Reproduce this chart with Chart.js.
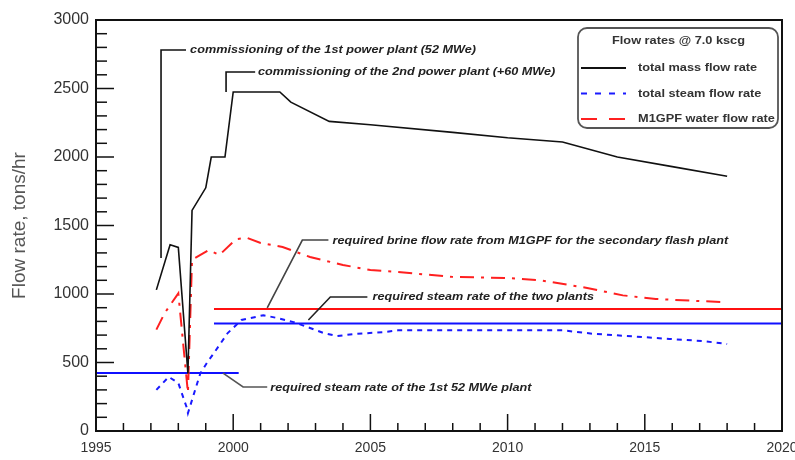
<!DOCTYPE html>
<html>
<head>
<meta charset="utf-8">
<script src="https://cdn.jsdelivr.net/npm/chart.js@4"></script>
<style>
  html, body { margin: 0; padding: 0; background: #fff; }
</style>
</head>
<body>
<canvas id="flowChart" width="795" height="460"></canvas>
<script>
// series (year, tons/hr)
const massYears = [1997.2, 1997.7, 1998.0, 1998.35, 1998.5, 1999.0, 1999.2, 1999.7, 2000.0, 2001.7, 2002.1, 2003.5, 2005, 2008, 2010, 2012, 2014, 2016, 2018];
const massFlow = [1030, 1360, 1340, 420, 1610, 1775, 2000, 2000, 2475, 2475, 2400, 2260, 2235, 2180, 2140, 2110, 2000, 1930, 1860];

const steamYears = [1997.2, 1997.65, 1998.0, 1998.3, 1998.35, 1998.8, 1999.05, 1999.3, 1999.8, 2000.3, 2001.1, 2001.6, 2002.2, 2002.8, 2003.3, 2003.8, 2004.4, 2005.5, 2006, 2012, 2013.1, 2014.9, 2015.9, 2017.1, 2018];
const steamFlow = [300, 395, 350, 175, 130, 420, 500, 570, 715, 810, 845, 825, 795, 752, 715, 693, 708, 722, 735, 735, 710, 686, 672, 657, 635];

const waterYears = [1997.2, 1997.5, 1998.0, 1998.35, 1998.5, 1999.1, 1999.5, 2000.1, 2000.5, 2001.0, 2001.8, 2002.8, 2004, 2005, 2006, 2008, 2010, 2011.2, 2012.9, 2014.2, 2015.4, 2016.8, 2018];
const waterFlow = [740, 860, 1005, 280, 1250, 1320, 1285, 1400, 1410, 1372, 1343, 1270, 1212, 1175, 1160, 1125, 1117, 1100, 1044, 990, 964, 950, 940];

// required rates (horizontal reference lines)
const req1Years = [1995, 2000.2];
const req1Flow = [423, 423];
const req2Years = [1999.3, 2020];
const req2Flow = [785, 785];
const brineYears = [1999.3, 2020];
const brineFlow = [890, 890];

const yTicks = [0, 500, 1000, 1500, 2000, 2500, 3000];
const xTicks = [1995, 2000, 2005, 2010, 2015, 2020];

const legendLabels = ['total mass flow rate', 'total steam flow rate', 'M1GPF water flow rate'];

// leader lines + notes, in data units
const notes = [
  { text: 'commissioning of the 1st power plant (52 MWe)', path: [[1997.37, 1263], [1997.37, 2781], [1998.28, 2781]], at: [1998.43, 2781], color: '#111' },
  { text: 'commissioning of the 2nd power plant (+60 MWe)', path: [[1999.74, 2474], [1999.74, 2620], [2000.8, 2620]], at: [2000.9, 2620], color: '#111' },
  { text: 'required brine flow rate from M1GPF for the secondary flash plant', path: [[2001.24, 898], [2002.52, 1394], [2003.47, 1394]], at: [2003.62, 1390], color: '#444' },
  { text: 'required steam rate of the two plants', path: [[2002.74, 810], [2003.54, 978], [2004.89, 978]], at: [2005.08, 975], color: '#222' },
  { text: 'required steam rate of the 1st 52 MWe plant', path: [[1999.63, 423], [2000.36, 321], [2001.24, 321]], at: [2001.35, 312], color: '#555' }
];

const pts = (xs, ys) => xs.map((x, i) => ({ x: x, y: ys[i] }));

// text drawn a little wider than the font, like the original figure
function wideText(ctx, txt, px, py, sx) {
  ctx.save();
  ctx.translate(px, py);
  ctx.scale(sx, 1);
  ctx.fillText(txt, 0, 0);
  ctx.restore();
}

const decor = {
  id: 'decor',
  afterDraw(chart) {
    const { ctx, chartArea: a, scales: { x, y } } = chart;
    ctx.save();
    const seg = (x1, y1, x2, y2) => { ctx.beginPath(); ctx.moveTo(x1, y1); ctx.lineTo(x2, y2); ctx.stroke(); };

    // inward ticks
    ctx.strokeStyle = '#111';
    ctx.lineWidth = 1.5;
    for (let v = 0; v <= 3000; v += 100) {
      const py = y.getPixelForValue(v);
      seg(a.left, py, a.left + (v % 500 === 0 ? 18 : 11), py);
    }
    for (let v = 1995; v <= 2020; v++) {
      const px = x.getPixelForValue(v);
      seg(px, a.bottom, px, a.bottom - (v % 5 === 0 ? 17 : 8));
    }
    // frame
    ctx.lineWidth = 2;
    ctx.strokeRect(a.left, a.top, a.right - a.left, a.bottom - a.top);

    // notes
    ctx.font = 'italic bold 11px "Liberation Sans", Arial, sans-serif';
    ctx.textBaseline = 'middle';
    ctx.textAlign = 'left';
    notes.forEach(n => {
      ctx.strokeStyle = n.color;
      ctx.lineWidth = 1.6;
      ctx.beginPath();
      n.path.forEach((p, i) => {
        const px = x.getPixelForValue(p[0]), py = y.getPixelForValue(p[1]);
        if (i === 0) ctx.moveTo(px, py); else ctx.lineTo(px, py);
      });
      ctx.stroke();
      ctx.fillStyle = '#222';
      wideText(ctx, n.text, x.getPixelForValue(n.at[0]), y.getPixelForValue(n.at[1]), 1.15);
    });

    // legend box
    const lx = 578, ly = 28, lw = 200, lh = 100;
    ctx.fillStyle = '#fff';
    ctx.strokeStyle = '#555';
    ctx.lineWidth = 1.8;
    ctx.beginPath();
    ctx.roundRect(lx, ly, lw, lh, 9);
    ctx.fill();
    ctx.stroke();
    ctx.save();
    ctx.beginPath();
    ctx.rect(lx, ly, lw, lh);
    ctx.clip();
    ctx.fillStyle = '#333';
    ctx.font = 'bold 11px "Liberation Sans", Arial, sans-serif';
    ctx.textAlign = 'left';
    wideText(ctx, 'Flow rates @ 7.0 kscg', lx + 34, ly + 13, 1.16);
    const ds = chart.data.datasets;
    legendLabels.forEach((lab, i) => {
      const ry = ly + 40 + i * 25.5;
      ctx.strokeStyle = ds[i].borderColor;
      ctx.lineWidth = 2;
      ctx.setLineDash(i === 0 ? [] : (i === 1 ? [6, 8] : [16, 12]));
      seg(lx + 3, ry, lx + 48, ry);
      ctx.setLineDash([]);
      ctx.fillStyle = '#333';
      wideText(ctx, lab, lx + 60, ry, 1.16);
    });
    ctx.restore();
    ctx.restore();
  }
};

new Chart(document.getElementById('flowChart').getContext('2d'), {
  type: 'line',
  data: {
    datasets: [
      { label: legendLabels[0], data: pts(massYears, massFlow), borderColor: '#111', borderWidth: 1.6 },
      { label: legendLabels[1], data: pts(steamYears, steamFlow), borderColor: '#1a1aff', borderWidth: 2, borderDash: [5, 5] },
      { label: legendLabels[2], data: pts(waterYears, waterFlow), borderColor: '#ff2020', borderWidth: 2, borderDash: [14, 7, 3, 7] },
      { label: 'req1', data: pts(req1Years, req1Flow), borderColor: '#1010ff', borderWidth: 2 },
      { label: 'req2', data: pts(req2Years, req2Flow), borderColor: '#1010ff', borderWidth: 2 },
      { label: 'brine', data: pts(brineYears, brineFlow), borderColor: '#ff1010', borderWidth: 2 }
    ]
  },
  options: {
    responsive: false,
    animation: false,
    elements: { point: { radius: 0 }, line: { tension: 0 } },
    layout: { padding: { top: 20, right: 13, left: 0, bottom: 0 } },
    plugins: { legend: { display: false }, tooltip: { enabled: false } },
    scales: {
      x: {
        type: 'linear',
        min: 1995,
        max: 2020,
        grid: { display: false, drawTicks: false },
        border: { display: false },
        afterBuildTicks: s => { s.ticks = xTicks.map(v => ({ value: v })); },
        afterFit: s => { s.height = 29; s.paddingLeft = 0; s.paddingRight = 0; },
        ticks: {
          padding: 9,
          maxRotation: 0,
          color: '#333',
          font: { family: '"Liberation Sans", Arial', size: 14 },
          callback: v => String(v)
        }
      },
      y: {
        min: 0,
        max: 3000,
        grid: { display: false, drawTicks: false },
        border: { display: false },
        afterBuildTicks: s => { s.ticks = yTicks.map(v => ({ value: v })); },
        afterFit: s => { s.width = 96; },
        title: {
          display: true,
          text: 'Flow rate, tons/hr',
          color: '#555',
          font: { family: '"Liberation Sans", Arial', size: 19 },
          padding: { top: 8, bottom: 0 }
        },
        ticks: {
          padding: 7,
          color: '#333',
          font: { family: '"Liberation Sans", Arial', size: 16 },
          callback: v => String(v)
        }
      }
    }
  },
  plugins: [decor]
});
</script>
</body>
</html>
